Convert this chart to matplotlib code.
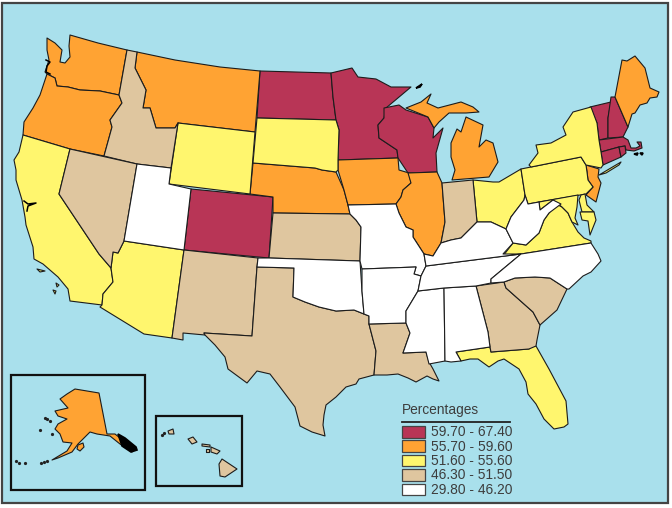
import matplotlib
matplotlib.use('Agg')
from matplotlib import pyplot as plt
from matplotlib.patches import Rectangle

WA = [(70,35),(98,43),(127,50),(119,95),(100,91),(80,90),(68,87),(57,86),(55,78),(47,74),(45,72),(47,66),(49,60),(47,50),(47,38),(55,43),(62,50),(60,62),(65,63),(70,57),(69,46)]
OR = [(47,74),(55,78),(57,86),(68,87),(80,90),(100,91),(119,95),(122,103),(110,120),(112,127),(104,156),(70,149),(23,135),(24,122),(33,108),(40,95)]
CA = [(23,135),(70,149),(59,194),(99,254),(111,268),(113,282),(103,294),(102,305),(70,301),(68,289),(58,277),(43,264),(34,259),(33,247),(26,225),(25,217),(22,200),(16,180),(16,170),(14,160),(19,152)]
NV = [(70,149),(137,164),(124,241),(118,253),(113,252),(111,268),(99,254),(59,194)]
ID = [(127,50),(137,52),(135,68),(146,90),(143,108),(150,108),(156,128),(175,128),(178,123),(171,168),(137,164),(104,156),(112,127),(110,120),(122,103),(119,95)]
MT = [(137,52),(175,60),(220,67),(260,71),(255,132),(178,123),(175,128),(156,128),(150,108),(143,108),(146,90),(135,68)]
WY = [(178,123),(255,132),(250,194),(169,184)]
UT = [(137,164),(171,168),(169,184),(191,189),(184,250),(124,241)]
CO = [(191,189),(273,197),(269,258),(184,250)]
AZ = [(124,241),(184,250),(172,338),(144,334),(100,307),(102,305),(103,294),(113,282),(111,268),(113,252),(118,253)]
NM = [(184,250),(258,258),(257,267),(252,336),(204,333),(205,335),(183,333),(183,340),(172,338)]
TX = [(257,267),(294,268),(293,297),(305,302),(319,307),(336,311),(354,310),(364,314),(369,316),(369,324),(376,351),(374,375),(359,379),(356,384),(346,387),(336,397),(326,405),(324,415),(323,425),(325,436),(312,432),(300,426),(295,407),(280,387),(270,374),(257,371),(247,383),(228,369),(225,357),(215,345),(205,335),(204,333),(252,336)]
OK = [(258,258),(269,258),(360,261),(362,291),(364,314),(354,310),(336,311),(319,307),(305,302),(293,297),(294,268),(257,267)]
KS = [(273,213),(350,214),(356,220),(361,227),(360,261),(269,258)]
NE = [(253,163),(315,168),(322,170),(336,172),(344,190),(348,205),(350,214),(273,213),(273,197),(250,194)]
SD = [(257,118),(336,120),(339,130),(338,160),(338,170),(336,172),(322,170),(315,168),(253,163)]
ND = [(260,71),(331,73),(333,97),(336,120),(257,118)]
MN = [(331,73),(352,68),(358,77),(376,79),(391,87),(411,87),(386,108),(384,118),(378,125),(379,138),(397,150),(398,158),(338,160),(339,130),(336,120),(333,97)]
IA = [(338,160),(398,158),(399,170),(409,173),(411,183),(403,190),(401,197),(396,204),(348,205),(344,190),(338,170)]
MO = [(348,205),(396,204),(399,213),(406,227),(413,230),(413,237),(424,254),(426,266),(421,276),(414,274),(416,267),(362,269),(360,261),(361,227),(356,220),(350,214)]
AR = [(362,269),(416,267),(414,274),(421,276),(418,291),(406,311),(406,323),(369,324),(369,316),(364,314),(362,291)]
LA = [(369,324),(406,323),(410,333),(403,353),(426,352),(429,362),(433,369),(439,381),(433,379),(427,376),(416,382),(408,378),(398,374),(387,375),(374,375),(376,351)]
MS = [(418,291),(444,288),(445,361),(429,364),(426,352),(403,353),(410,333),(406,323),(406,311)]
AL = [(444,288),(476,286),(488,332),(490,347),(456,352),(461,361),(451,362),(445,361)]
GA = [(476,286),(504,282),(506,288),(533,312),(540,325),(537,340),(536,346),(529,349),(491,352),(490,347),(488,332)]
SC = [(504,282),(515,278),(535,277),(550,278),(567,289),(557,310),(540,325),(533,312),(506,288)]
NC = [(491,283),(491,279),(509,264),(521,254),(591,243),(598,254),(601,261),(591,272),(583,276),(569,289),(567,289),(550,278),(535,277),(515,278),(504,282)]
TN = [(426,266),(521,254),(509,264),(491,279),(491,283),(476,286),(444,288),(418,291),(421,276)]
KY = [(426,266),(424,254),(433,256),(441,243),(451,240),(461,238),(477,222),(491,222),(506,229),(513,243),(503,254),(521,254)]
VA = [(503,256),(513,243),(526,245),(539,233),(544,220),(549,213),(556,204),(562,207),(568,213),(572,222),(578,232),(584,238),(591,241),(591,243),(521,254)]
WV = [(506,229),(511,217),(524,200),(525,195),(528,204),(539,202),(540,210),(553,200),(561,204),(549,213),(544,220),(539,233),(526,245),(513,243)]
OH = [(473,180),(493,182),(499,182),(521,169),(525,195),(524,200),(511,217),(506,229),(491,222),(477,222)]
IN = [(442,183),(473,180),(477,222),(461,238),(451,240),(441,243),(445,222)]
IL = [(408,173),(437,172),(442,183),(445,222),(441,243),(433,256),(424,254),(413,237),(413,230),(406,227),(399,213),(396,204),(401,197),(403,190),(411,183)]
WI = [(384,108),(399,105),(406,110),(428,117),(434,128),(433,138),(443,128),(436,153),(437,172),(408,173),(398,158),(397,150),(379,138),(378,125),(384,118)]
MI_UP = [(406,108),(421,102),(431,94),(427,103),(438,108),(461,102),(473,107),(479,112),(466,113),(449,113),(439,122),(434,128),(428,117)]
MI_LP = [(452,180),(489,177),(498,162),(493,143),(486,140),(479,147),(483,125),(466,117),(461,132),(457,129),(451,143),(451,157),(455,170)]
NY = [(591,107),(573,112),(563,127),(566,135),(551,143),(536,145),(538,153),(529,165),(531,167),(581,157),(586,165),(601,168),(603,165),(601,152),(599,140),(597,123)]
LI = [(599,175),(621,162),(619,165),(606,173)]
PA = [(521,169),(531,167),(581,157),(586,165),(587,172),(588,180),(593,187),(586,194),(539,202),(528,204),(525,195)]
NJ = [(586,165),(599,169),(598,177),(601,183),(596,202),(586,195),(593,187),(588,180),(587,172)]
MD = [(539,202),(578,195),(577,207),(575,218),(578,225),(572,222),(568,213),(562,207),(553,200),(540,210)]
DE = [(581,195),(585,194),(587,205),(594,212),(582,212),(579,200)]
DELMARVA = [(580,212),(594,212),(596,220),(590,235),(588,221),(582,220)]
DC = [(568,209),(572,205),(575,209),(572,213)]
VT = [(590,107),(611,102),(608,118),(608,138),(599,140),(597,123)]
NH = [(611,97),(615,97),(628,127),(623,137),(608,138),(608,118)]
ME = [(615,97),(622,60),(627,61),(635,56),(645,68),(650,88),(659,92),(657,97),(650,98),(647,103),(640,105),(635,113),(632,114),(628,127)]
MA = [(599,140),(623,137),(628,140),(631,148),(636,148),(640,146),(637,142),(641,142),(642,148),(634,151),(626,150),(625,146),(619,147),(601,152)]
CT = [(601,152),(619,147),(621,157),(603,165)]
RI = [(619,147),(625,146),(626,153),(621,157)]
FL = [(456,352),(490,347),(491,352),(529,349),(531,346),(536,346),(549,369),(566,401),(568,424),(564,427),(554,429),(544,419),(536,404),(528,394),(526,382),(519,369),(504,359),(498,361),(489,367),(478,359),(470,359),(461,361)]
AK = [(75,389),(99,393),(107,434),(115,434),(125,442),(135,449),(132,452),(120,444),(110,436),(97,434),(90,432),(83,439),(78,444),(72,452),(58,458),(52,460),(67,451),(72,443),(63,442),(60,434),(55,429),(58,424),(67,419),(58,416),(55,411),(68,408),(60,399),(67,394)]
KODIAK = [(78,445),(83,443),(84,447),(80,451),(77,449)]
HI_BIG = [(222,459),(237,469),(225,477),(220,476),(219,464)]
HI_MAUI = [(211,447),(220,451),(217,454),(211,452)]
HI_OAHU = [(188,439),(193,437),(197,442),(192,444)]
HI_KAUAI = [(168,431),(173,429),(174,434),(169,434)]
HI_LANAI = [(206,449),(209,449),(209,452),(206,452)]
HI_MOLOKAI = [(202,444),(210,445),(210,447),(202,446)]
CHANNEL_A = [(37,269),(45,271),(40,272)]
CHANNEL_B = [(56,283),(59,285),(57,287)]
CHANNEL_C = [(53,290),(56,291),(55,294)]
ISLE_ROYALE = [(416,88),(422,84),(420,87)]
VINEYARD = [(634,154),(638,153),(637,155)]
NANTUCKET = [(640,153),(643,153),(642,155)]

# rough dark coast detail
SF_BAY = [(24,201),(28,204),(36,203),(28,206),(27,211)]
GRAYS = [(46,60),(50,62),(47,66),(46,72),(50,74)]
SE_AK = [(118,434),(125,438),(136,447),(137,450),(131,452),(122,446)]
SMALL_ISLANDS = [(16,461),(19,463),(25,463),(41,463),(44,462),(47,461),(45,418),(47,419),(50,421),(40,430),(52,434),(162,435),(164,433)]

# classes as on the legend
LEGEND_LABELS = ['59.70 - 67.40', '55.70 - 59.60', '51.60 - 55.60', '46.30 - 51.50', '29.80 - 46.20']
CLASS_COLORS = ['#B83556', '#FFA333', '#FFF66E', '#DFC69F', '#FFFFFF']
CLASS_STATES = [
    [ND, MN, WI, CO, VT, NH, MA, CT, RI, DC],
    [WA, OR, MT, NE, IA, IL, MI_UP, MI_LP, ME, NJ, AK, KODIAK],
    [CA, AZ, WY, SD, OH, PA, NY, LI, VA, MD, DE, DELMARVA, FL, CHANNEL_A, CHANNEL_B, CHANNEL_C],
    [ID, NV, NM, TX, KS, LA, GA, SC, IN, HI_BIG, HI_MAUI, HI_OAHU, HI_KAUAI, HI_LANAI, HI_MOLOKAI],
    [UT, OK, MO, AR, MS, AL, TN, KY, WV, NC],
]

SEA = '#A9E0EC'
INK = '#1c1c1c'
TEXT = '#3d3d3d'

plt.rcParams['font.family'] = ['Liberation Sans', 'DejaVu Sans']

fig = plt.figure(figsize=(6.72, 5.08), dpi=100)
ax = fig.add_axes([0, 0, 1, 1])
ax.set_xlim(0, 672)
ax.set_ylim(508, 0)
ax.axis('off')
ax.add_patch(Rectangle((2, 3), 666, 500, fc=SEA, ec='#444444', lw=1.6))

# insets
ax.add_patch(Rectangle((11, 375), 134, 115, fc='none', ec='#111111', lw=1.6))
ax.add_patch(Rectangle((156, 416), 86, 70, fc='none', ec='#111111', lw=1.6))

for color, states in zip(CLASS_COLORS, CLASS_STATES):
    for shape in states:
        xs, ys = zip(*shape)
        ax.fill(xs, ys, fc=color, ec=INK, lw=0.8, joinstyle='round')

# black specks and bits of coast
for shape in [ISLE_ROYALE, VINEYARD, NANTUCKET, SE_AK]:
    xs, ys = zip(*shape)
    ax.fill(xs, ys, fc='black', ec='black', lw=1.2)
for line in [SF_BAY, GRAYS]:
    xs, ys = zip(*line)
    ax.plot(xs, ys, color='black', lw=1.1)
xs, ys = zip(*SMALL_ISLANDS)
ax.plot(xs, ys, ls='none', marker='o', ms=1.3, color='#222222')

# legend
ax.text(402, 410, 'Percentages', fontsize=9.9, color=TEXT, va='center', ha='left')
ax.plot([402, 510], [422, 422], color='#222222', lw=1.3)
for i, (label, color) in enumerate(zip(LEGEND_LABELS, CLASS_COLORS)):
    top = 426 + i * 14.4
    ax.add_patch(Rectangle((402, top), 23, 11.5, fc=color, ec='#444444', lw=0.9))
    ax.text(431, top + 6.2, label, fontsize=9.9, color=TEXT, va='center', ha='left')

fig.savefig('out.png', dpi=100, facecolor='white')
